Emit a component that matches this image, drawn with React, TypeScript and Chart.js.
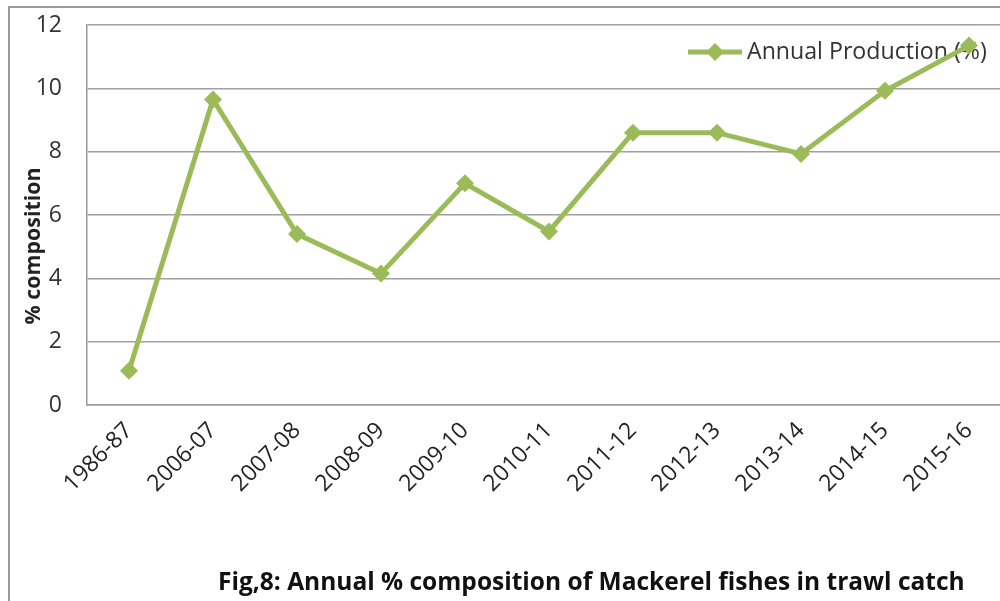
import React, { useEffect, useRef } from "react";
import { Chart, registerables } from "chart.js";

Chart.register(...registerables);

const categories = ["1986-87", "2006-07", "2007-08", "2008-09", "2009-10", "2010-11", "2011-12", "2012-13", "2013-14", "2014-15", "2015-16"];
const annualProduction = [1.08, 9.65, 5.4, 4.15, 7.0, 5.48, 8.6, 8.6, 7.93, 9.92, 11.35];
const seriesLabel = "Annual Production (%)";
const yAxisTitle = "% composition";
const figureTitle = "Fig,8: Annual % composition of Mackerel fishes in trawl catch";

const GREEN = "#9BBB59";
const FONT = "'Open Sans', sans-serif";

function fitSize(ctx: CanvasRenderingContext2D, text: string, weight: string, target: number) {
  ctx.font = `${weight} 100px ${FONT}`;
  const w = ctx.measureText(text).width;
  return (100 * target) / w;
}

const decorPlugin = {
  id: "decor",
  beforeDraw(chart: any) {
    const ctx = chart.ctx as CanvasRenderingContext2D;
    ctx.save();
    ctx.fillStyle = "#ffffff";
    ctx.fillRect(0, 0, chart.width, chart.height);
    ctx.strokeStyle = "#9a9a9a";
    ctx.lineWidth = 2;
    ctx.beginPath();
    ctx.moveTo(9, chart.height + 5);
    ctx.lineTo(9, 7);
    ctx.lineTo(chart.width + 5, 7);
    ctx.stroke();
    ctx.restore();
  },
  beforeDatasetsDraw(chart: any) {
    const ctx = chart.ctx as CanvasRenderingContext2D;
    ctx.save();
    const ly = 52;
    ctx.strokeStyle = GREEN;
    ctx.lineWidth = 5;
    ctx.beginPath();
    ctx.moveTo(688, ly);
    ctx.lineTo(742, ly);
    ctx.stroke();
    ctx.fillStyle = GREEN;
    ctx.beginPath();
    ctx.moveTo(715, ly - 9);
    ctx.lineTo(724, ly);
    ctx.lineTo(715, ly + 9);
    ctx.lineTo(706, ly);
    ctx.closePath();
    ctx.fill();
    const ls = fitSize(ctx, seriesLabel, "normal", 240);
    ctx.font = `normal ${ls}px ${FONT}`;
    ctx.fillStyle = "#333333";
    ctx.textAlign = "left";
    ctx.textBaseline = "middle";
    ctx.fillText(seriesLabel, 747, ly);
    ctx.restore();
  },
  afterDraw(chart: any) {
    const ctx = chart.ctx as CanvasRenderingContext2D;
    ctx.save();
    ctx.translate(34, 246);
    ctx.rotate(-Math.PI / 2);
    const ys = fitSize(ctx, yAxisTitle, "bold", 157);
    ctx.font = `bold ${ys}px ${FONT}`;
    ctx.fillStyle = "#222222";
    ctx.textAlign = "center";
    ctx.textBaseline = "middle";
    ctx.fillText(yAxisTitle, 0, 0);
    ctx.restore();
    ctx.save();
    const ts = fitSize(ctx, figureTitle, "bold", 747);
    ctx.font = `bold ${ts}px ${FONT}`;
    ctx.fillStyle = "#111111";
    ctx.textAlign = "left";
    ctx.textBaseline = "alphabetic";
    ctx.fillText(figureTitle, 218, 590);
    ctx.restore();
  },
};

export default function App() {
  const ref = useRef<HTMLCanvasElement | null>(null);
  useEffect(() => {
    if (!ref.current) return;
    const chart = new Chart(ref.current, {
      type: "line",
      data: {
        labels: categories,
        datasets: [
          {
            label: seriesLabel,
            data: annualProduction,
            borderColor: GREEN,
            backgroundColor: GREEN,
            borderWidth: 5,
            pointStyle: "rectRot",
            pointRadius: 9,
            pointBorderWidth: 0,
            pointBackgroundColor: GREEN,
            tension: 0,
          },
        ],
      },
      options: {
        animation: false,
        responsive: false,
        devicePixelRatio: 1,
        layout: { padding: { top: 25, left: 0, right: 0, bottom: 0 } },
        plugins: {
          legend: { display: false },
          title: { display: false },
          tooltip: { enabled: false },
        },
        scales: {
          x: {
            type: "category",
            offset: true,
            grid: { display: false, drawTicks: false },
            border: { display: true, color: "#999999", width: 1.5 },
            ticks: {
              autoSkip: false,
              minRotation: 45,
              maxRotation: 45,
              padding: 12,
              color: "#222222",
              font: { family: FONT, size: 23 },
            },
            afterFit(scale: any) {
              scale.height = 196;
              scale.paddingLeft = 0;
              scale.paddingRight = 0;
              scale.paddingTop = 0;
              scale.paddingBottom = 0;
            },
          },
          y: {
            min: 0,
            max: 12,
            ticks: {
              stepSize: 2,
              padding: 25,
              color: "#333333",
              font: { family: FONT, size: 23 },
            },
            grid: { color: "#a0a0a0", lineWidth: 1.5, drawTicks: false },
            border: { display: true, color: "#999999", width: 1.5 },
            afterFit(scale: any) {
              scale.width = 87;
              scale.paddingLeft = 0;
              scale.paddingRight = 0;
              scale.paddingTop = 0;
              scale.paddingBottom = 0;
            },
          },
        },
      },
      plugins: [decorPlugin],
    });
    return () => chart.destroy();
  }, []);
  return (
    <div style={{ position: "absolute", left: 0, top: 0, width: 1000, height: 601, overflow: "hidden", background: "#fff" }}>
      <canvas ref={ref} width={1020} height={601} style={{ display: "block", width: 1020, height: 601 }} />
    </div>
  );
}
